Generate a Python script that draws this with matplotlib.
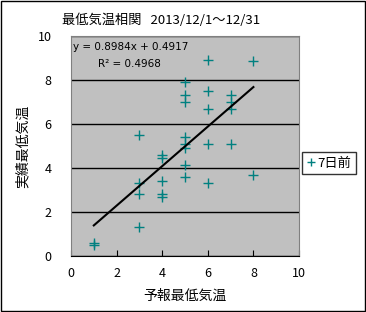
import matplotlib
matplotlib.use("Agg")
import matplotlib.pyplot as plt
import numpy as np

plt.rcParams['font.family'] = ['Noto Sans CJK JP', 'DejaVu Sans']

# forecast min temp (x) vs actual min temp (y), 7 days ahead
forecast = [1, 1, 3, 3, 3, 3, 4, 4, 4, 4, 4,
            5, 5, 5, 5, 5, 5, 5, 5, 6, 6, 6, 6, 6,
            7, 7, 7, 7, 8, 8]
actual = [0.6, 0.5, 5.5, 3.3, 2.8, 1.3, 4.6, 4.45, 3.4, 2.8, 2.7,
          7.9, 7.3, 7.0, 5.4, 5.1, 4.9, 4.15, 3.6, 8.9, 7.5, 6.7, 5.1, 3.3,
          7.3, 7.0, 6.7, 5.1, 8.85, 3.7]
slope = 0.8984
intercept = 0.4917
r2 = 0.4968

fig = plt.figure(figsize=(3.66, 3.12), dpi=100)
fig.patches.append(plt.Rectangle((0.002, 0.003), 0.995, 0.994, transform=fig.transFigure,
                                 fill=False, edgecolor='black', linewidth=1))
ax = fig.add_axes([71/366, 56/312, 228/366, 220/312])
ax.set_facecolor('#c0c0c0')

ax.plot(forecast, actual, linestyle='none', marker='+', markersize=6.5,
        markeredgewidth=1, color='#008080', label='7日前')
xs = np.array([min(forecast), max(forecast)])
ax.plot(xs, slope * xs + intercept, color='black', linewidth=1.5)

ax.set_xlim(0, 10)
ax.set_ylim(0, 10)
ax.set_xticks([0, 2, 4, 6, 8, 10])
ax.set_yticks([0, 2, 4, 6, 8, 10])
ax.yaxis.grid(True, color='black', linewidth=1)
ax.set_axisbelow(True)
ax.tick_params(axis='x', direction='in', length=4, labelsize=9, pad=8)
ax.tick_params(axis='y', length=0, labelsize=9, pad=14)
for s in ['top', 'right', 'left']:
    ax.spines[s].set_color('#808080')
ax.spines['bottom'].set_color('black')

ax.text(0.01, 0.975, f'y = {slope}x + {intercept}', transform=ax.transAxes,
        fontsize=7.5, va='top', ha='left', family='DejaVu Sans')
ax.text(0.12, 0.895, f'R² = {r2}', transform=ax.transAxes,
        fontsize=7.5, va='top', ha='left', family='DejaVu Sans')

fig.text(62/366, 0.935, '最低気温相関   2013/12/1～12/31', ha='left', va='center', fontsize=9.5)
ax.set_xlabel('予報最低気温', fontsize=10, labelpad=6)
ax.set_ylabel('実績最低気温', fontsize=10, labelpad=6)

fig.legend(loc='center left', bbox_to_anchor=(302/366, 1 - 163/312), frameon=True,
           fancybox=False, edgecolor='black', fontsize=9.5, handlelength=0.7,
           handletextpad=0.1, borderpad=0.35, borderaxespad=0, markerscale=0.9)

fig.savefig('out.png', dpi=100)
